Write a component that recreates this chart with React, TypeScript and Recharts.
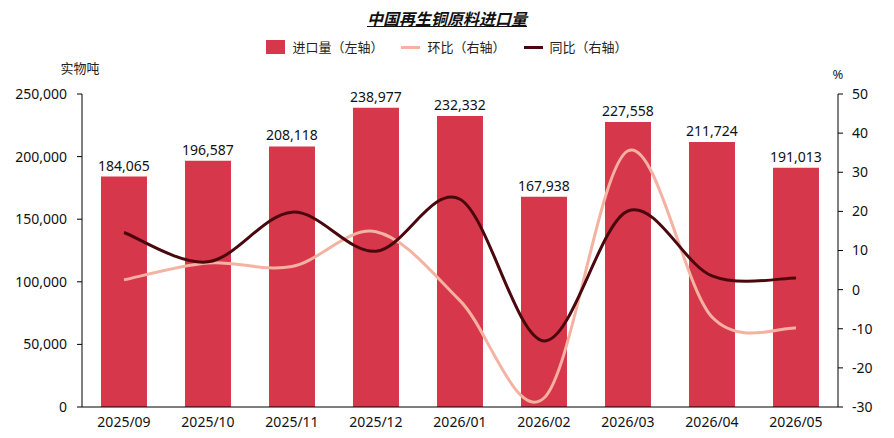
import React from 'react';
import { ComposedChart, Bar, Line, XAxis, YAxis, LabelList } from 'recharts';

const categories = ['2025/09', '2025/10', '2025/11', '2025/12', '2026/01', '2026/02', '2026/03', '2026/04', '2026/05'];
const imports = [184065, 196587, 208118, 238977, 232332, 167938, 227558, 211724, 191013];
const mom = [2.5, 6.8, 5.9, 14.8, -2.8, -27.7, 35.5, -7.0, -9.8];
const yoy = [14.6, 7.1, 19.8, 9.8, 23.1, -13.1, 20.1, 3.5, 3.0];
const leftTicks = [0, 50000, 100000, 150000, 200000, 250000];
const rightTicks = [-30, -20, -10, 0, 10, 20, 30, 40, 50];

const data = categories.map((c, i) => ({ name: c, imports: imports[i], mom: mom[i], yoy: yoy[i] }));

const BAR = '#D6374A';
const LIGHT = '#F4B2A2';
const DARK = '#4A080E';
const FONT = "'Noto Sans', 'Noto Sans CJK SC', sans-serif";

class CatmullRom {
  _context: any;
  _pts: number[][] = [];
  constructor(ctx: any) { this._context = ctx; }
  areaStart() {}
  areaEnd() {}
  lineStart() { this._pts = []; }
  point(x: number, y: number) { this._pts.push([+x, +y]); }
  lineEnd() {
    const p = this._pts;
    const n = p.length;
    if (!n) return;
    this._context.moveTo(p[0][0], p[0][1]);
    for (let i = 0; i < n - 1; i++) {
      const p0 = p[i - 1] || p[i];
      const p1 = p[i];
      const p2 = p[i + 1];
      const p3 = p[i + 2] || p[i + 1];
      this._context.bezierCurveTo(
        p1[0] + (p2[0] - p0[0]) / 6, p1[1] + (p2[1] - p0[1]) / 6,
        p2[0] - (p3[0] - p1[0]) / 6, p2[1] - (p3[1] - p1[1]) / 6,
        p2[0], p2[1]
      );
    }
  }
}
const catmull: any = (ctx: any) => new CatmullRom(ctx);

const fmt = (v: number) => v.toLocaleString('en-US');

export default function App() {
  return (
    <div style={{ position: 'absolute', left: 0, top: 0, width: 894, height: 438, background: '#fff' }}>
      <div style={{ position: 'absolute', left: 0, top: 8, width: 894, textAlign: 'center', fontFamily: FONT, fontSize: 16, fontWeight: 'bold', fontStyle: 'italic', textDecoration: 'underline', color: '#111', lineHeight: '22px' }}>
        中国再生铜原料进口量
      </div>
      <div style={{ position: 'absolute', left: 0, top: 38, width: 894, display: 'flex', justifyContent: 'center', alignItems: 'center', fontFamily: FONT, fontSize: 13, color: '#222', lineHeight: '18px' }}>
        <span style={{ display: 'inline-block', width: 19, height: 14, background: BAR, marginRight: 7 }} />
        <span style={{ marginRight: 18 }}>进口量（左轴）</span>
        <span style={{ display: 'inline-block', width: 19, height: 3, background: LIGHT, marginRight: 7 }} />
        <span style={{ marginRight: 18 }}>环比（右轴）</span>
        <span style={{ display: 'inline-block', width: 19, height: 3, background: DARK, marginRight: 7 }} />
        <span>同比（右轴）</span>
      </div>
      <div style={{ position: 'absolute', left: 50, top: 58, width: 60, textAlign: 'center', fontFamily: FONT, fontSize: 13, color: '#222' }}>实物吨</div>
      <div style={{ position: 'absolute', left: 818, top: 65, width: 40, textAlign: 'center', fontFamily: FONT, fontSize: 13, color: '#222' }}>%</div>
      <ComposedChart width={894} height={438} data={data} margin={{ top: 94, right: 0, left: 0, bottom: 0 }} barCategoryGap="22.6%" style={{ position: 'absolute', left: 0, top: 0 }}>
        <XAxis dataKey="name" height={31} tickLine={false} axisLine={{ stroke: '#000' }} tickMargin={4} tick={{ fontSize: 14, fill: '#111', fontFamily: FONT }} interval={0} />
        <YAxis yAxisId="left" orientation="left" width={82} domain={[0, 250000]} ticks={leftTicks} tickFormatter={fmt} axisLine={{ stroke: '#000' }} tickLine={{ stroke: '#000' }} tickSize={5} tickMargin={10} tick={{ fontSize: 14, fill: '#111', fontFamily: FONT }} interval={0} />
        <YAxis yAxisId="right" orientation="right" width={56} domain={[-30, 50]} ticks={rightTicks} axisLine={{ stroke: '#000' }} tickLine={{ stroke: '#000' }} tickSize={5} tickMargin={9} tick={{ fontSize: 14, fill: '#111', fontFamily: FONT }} interval={0} />
        <Bar yAxisId="left" dataKey="imports" fill={BAR} isAnimationActive={false}>
          <LabelList dataKey="imports" position="top" offset={6} formatter={(v: any) => fmt(Number(v))} style={{ fontSize: 14, fill: '#111', fontFamily: FONT }} />
        </Bar>
        <Line yAxisId="right" dataKey="mom" type={catmull} stroke={LIGHT} strokeWidth={3} dot={false} activeDot={false} isAnimationActive={false} />
        <Line yAxisId="right" dataKey="yoy" type={catmull} stroke={DARK} strokeWidth={3} dot={false} activeDot={false} isAnimationActive={false} />
      </ComposedChart>
    </div>
  );
}
